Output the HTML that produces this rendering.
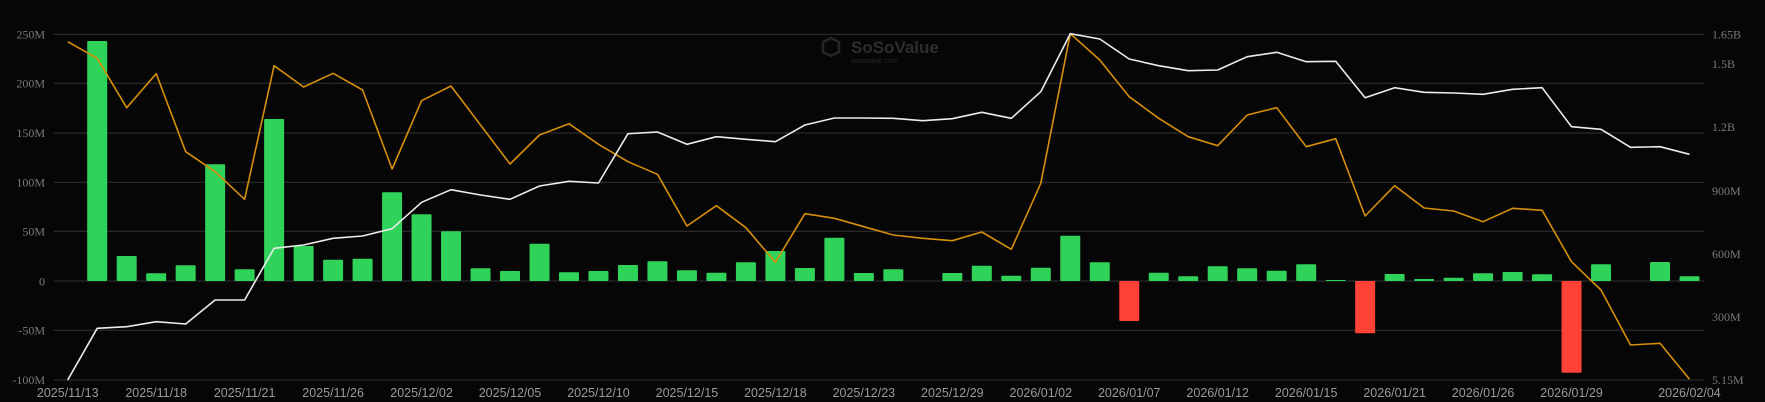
<!DOCTYPE html>
<html><head><meta charset="utf-8"><style>
html,body{margin:0;padding:0;background:#060606;}
svg{display:block;}
</style></head><body>
<svg id="c" width="1765" height="402" viewBox="0 0 1765 402" xmlns="http://www.w3.org/2000/svg">
<rect width="1765" height="402" fill="#060606"/>
<g id="grid" stroke="#333" stroke-width="1"></g>
<g font-family="Liberation Serif, serif" font-size="12" fill="#7a7a7a">
<text x="45" y="38.5" text-anchor="end">250M</text>
<text x="45" y="87.5" text-anchor="end">200M</text>
<text x="45" y="137" text-anchor="end">150M</text>
<text x="45" y="186.5" text-anchor="end">100M</text>
<text x="45" y="235.5" text-anchor="end">50M</text>
<text x="45" y="285.5" text-anchor="end">0</text>
<text x="45" y="334.5" text-anchor="end">-50M</text>
<text x="45" y="384" text-anchor="end">-100M</text>
<text x="1712" y="38.5">1.65B</text>
<text x="1712" y="68">1.5B</text>
<text x="1712" y="131">1.2B</text>
<text x="1712" y="195">900M</text>
<text x="1712" y="258">600M</text>
<text x="1712" y="321">300M</text>
<text x="1712" y="384">5.15M</text>
</g>
<g opacity="0.35">
<path d="M823 42 l8 -4 l8 4 v10 l-8 4 l-8 -4z" fill="none" stroke="#666" stroke-width="2.5"/>
<text x="851" y="53" font-family="Liberation Sans, sans-serif" font-size="17" font-weight="bold" fill="#777">SoSoValue</text>
<text x="851" y="63" font-family="Liberation Sans, sans-serif" font-size="7" fill="#666">sosovalue.com</text>
</g>
<g id="bars"></g>
<polyline id="ol" fill="none" stroke="#d68f0b" stroke-width="1.6" stroke-linejoin="round"/>
<polyline id="wl" fill="none" stroke="#ececec" stroke-width="1.6" stroke-linejoin="round"/>
<g id="xl" font-family="Liberation Sans, sans-serif" font-size="12.5" fill="#9a9a9a" text-anchor="middle"></g>
</svg>
<script>
var NS="http://www.w3.org/2000/svg";
function X(k){return 97.2+29.487*k;}
var grid=[34.3,83.3,133,182.3,231.3,281,330.3,380];
var g=document.getElementById('grid');
grid.forEach(function(y){var l=document.createElementNS(NS,'line');l.setAttribute('x1',53.6);l.setAttribute('x2',1704);l.setAttribute('y1',y);l.setAttribute('y2',y);g.appendChild(l);});
var bars=[41,256,273.3,265.3,164.3,269.3,119,246,259.7,258.7,192.3,214.3,231.3,268.3,271,243.7,272.3,271,265,261.3,270.3,272.7,262.3,251,268,237.7,273,269.3,281,273,265.7,275.7,267.7,235.7,262.3,-321,272.7,276.3,266.3,268.3,270.7,264.3,280,-333.3,274,279,277.7,273.3,272,274.3,-372.7,264.3,281,262,276.3];
var bg=document.getElementById('bars');
bars.forEach(function(v,k){
 var r=document.createElementNS(NS,'rect');var x=X(k)-10;
 var y,h,c;
 if(v<0){y=281;h=-v-281;c='#ff4136';}else{y=v;h=281-v;c='#2fd35a';}
 if(h<0.5)return;
 r.setAttribute('x',x);r.setAttribute('y',y);r.setAttribute('width',20);r.setAttribute('height',h);r.setAttribute('fill',c);r.setAttribute('rx',1);bg.appendChild(r);
});
var o=[41.7,58.3,107.7,73.7,151.7,171.7,199.3,65.7,87,73.3,90,169,100.7,86,125,164,135,123.7,144.3,161.7,174.3,226,205.7,227.7,262.3,213.7,218.3,226.7,235,238.3,240.7,232,249.3,183.3,33.7,60,96.7,118.3,136.7,145.7,115,107.7,146.7,138.7,216,185.7,208,211,221.7,208.3,210.3,261.7,290,345,343.3,379.3];
var w=[380,328.3,326.7,321.7,324,300,300,248.3,245,238.3,236,228.7,202.3,189.7,195,199.3,186,181.3,183,133.7,132,144.3,136.7,139.3,141.7,125,118,118,118.3,120.7,118.7,112.3,118.3,91.7,33.7,39,59,65.7,70.7,70,56.7,52.3,61.7,61.3,97.7,87.7,92.3,93,94.3,89.3,87.7,126.7,129.3,147.3,146.7,154.3];
function pts(a){return a.map(function(y,i){return X(i-1).toFixed(1)+','+y;}).join(' ');}
document.getElementById('ol').setAttribute('points',pts(o));
document.getElementById('wl').setAttribute('points',pts(w));
var labs=[[-1,'2025/11/13'],[2,'2025/11/18'],[5,'2025/11/21'],[8,'2025/11/26'],[11,'2025/12/02'],[14,'2025/12/05'],[17,'2025/12/10'],[20,'2025/12/15'],[23,'2025/12/18'],[26,'2025/12/23'],[29,'2025/12/29'],[32,'2026/01/02'],[35,'2026/01/07'],[38,'2026/01/12'],[41,'2026/01/15'],[44,'2026/01/21'],[47,'2026/01/26'],[50,'2026/01/29'],[54,'2026/02/04']];
var xl=document.getElementById('xl');
labs.forEach(function(l){var t=document.createElementNS(NS,'text');t.setAttribute('x',X(l[0]));t.setAttribute('y',397);t.textContent=l[1];xl.appendChild(t);});
</script>
</body></html>
